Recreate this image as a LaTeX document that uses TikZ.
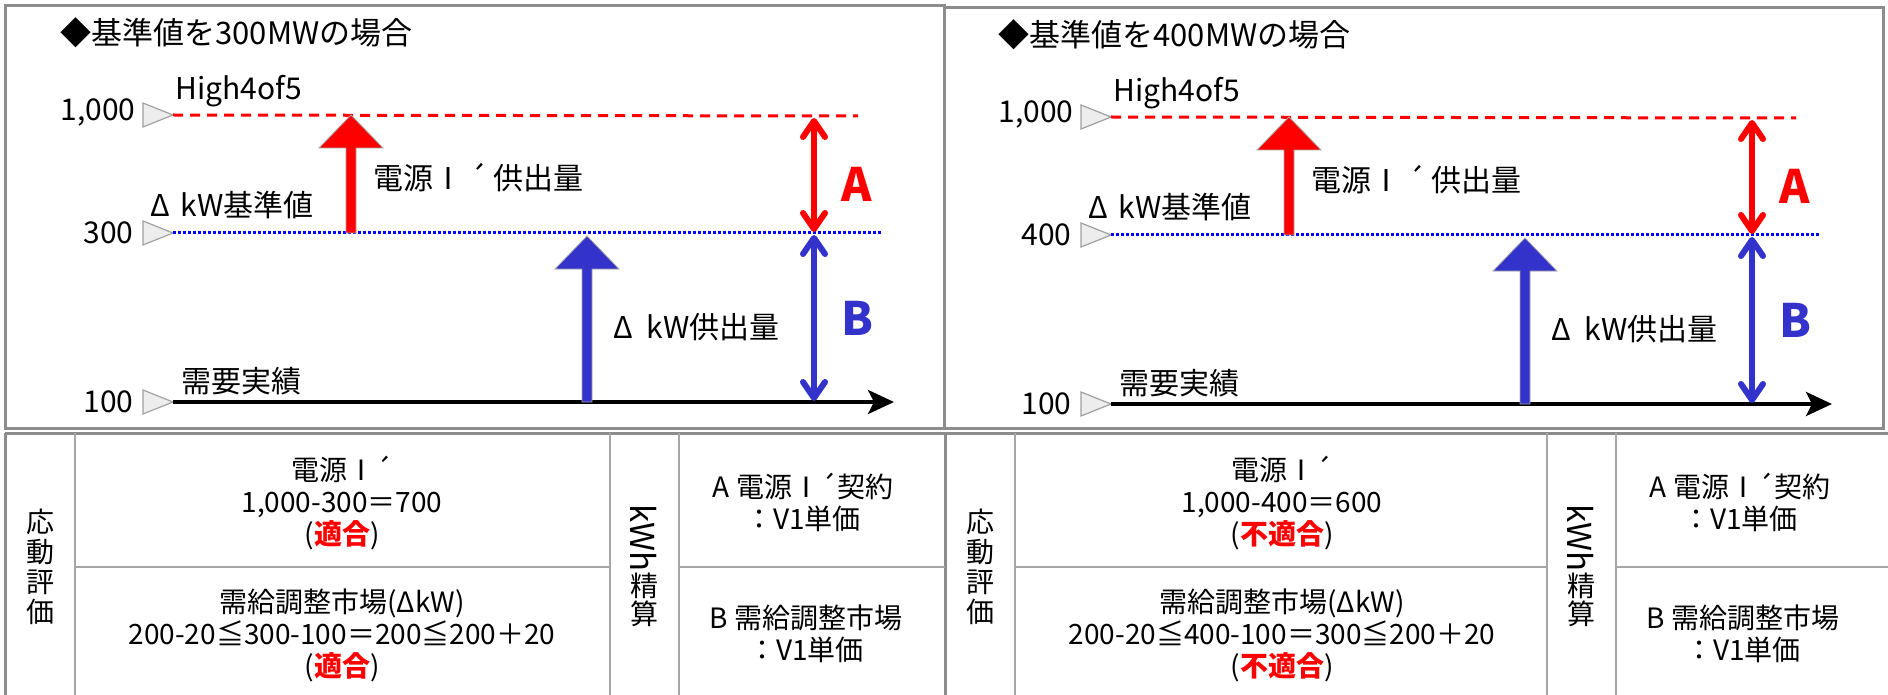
\documentclass[tikz,border=0pt]{standalone}
\usepackage{fontspec}
\setmainfont{Noto Sans CJK JP}
\usetikzlibrary{arrows.meta}
\definecolor{myred}{HTML}{FF0000}
\definecolor{myblue}{HTML}{3333CC}
\definecolor{dotblue}{HTML}{0000FF}
\definecolor{framegray}{HTML}{8C8C8C}
\definecolor{gridgray}{HTML}{A6A6A6}
\definecolor{markfill}{HTML}{EDEDED}
\definecolor{markline}{HTML}{A0A0A0}
\tikzset{
  lbl/.style={inner sep=0pt, font=\fontsize{15}{18}\selectfont},
  tlbl/.style={inner sep=0pt, font=\fontsize{14}{16}\selectfont, align=center},
  vlbl/.style={inner sep=0pt, font=\fontsize{14}{15}\selectfont, align=center},
  letterA/.style={inner sep=0pt, font=\fontsize{23}{26}\selectfont\bfseries},
  bigarrow/.style={draw=gray!70, line width=0.4pt},
  dblarrow/.style={line width=3pt, line cap=round,
    {Straight Barb[length=8pt,width=11pt,line cap=round,line join=round]}-{Straight Barb[length=8pt,width=11pt,line cap=round,line join=round]}},
  marker/.style={fill=markfill, draw=markline, line width=0.6pt},
  redline/.style={myred, line width=1.5pt, dash pattern=on 5pt off 3.5pt},
  blueline/.style={dotblue, line width=1.5pt, dash pattern=on 1.5pt off 1pt},
  baseline/.style={black, line width=1.8pt, -{Stealth[length=13pt,width=12pt,inset=3pt]}},
  panelframe/.style={draw=framegray, line width=1.5pt},
  gridline/.style={draw=gridgray, line width=1.2pt},
  darkgrid/.style={draw=framegray, line width=1.5pt},
}
% #1 prefix, #2 x offset, #3 y offset, #4 base value
\newcommand\mychart[4]{%
\begin{scope}[shift={(#2,#3)}]
  \node[lbl, anchor=west, font=\fontsize{15.5}{18}\selectfont] (#1title) at (60,33) {◆基準値を#4MWの場合};
  % value markers
  \node[lbl, anchor=east] (#1v1000) at (136,112) {1,000};
  \node[lbl, anchor=east] (#1vbase) at (134,233) {#4};
  \node[lbl, anchor=east] (#1v100) at (134,402) {100};
  \path[marker] (143,103) -- (173,115) -- (143,127) -- cycle;
  \path[marker] (143,221) -- (173,233) -- (143,245) -- cycle;
  \path[marker] (143,390) -- (173,402) -- (143,414) -- cycle;
  % level lines
  \coordinate (#1r1) at (173,115); \coordinate (#1r2) at (858,116);
  \coordinate (#1b1) at (173,233); \coordinate (#1b2) at (882,233);
  \coordinate (#1k1) at (173,402); \coordinate (#1k2) at (894,402);
  \draw[redline] (#1r1) -- (#1r2);
  \draw[blueline] (#1b1) -- (#1b2);
  \draw[baseline] (#1k1) -- (#1k2);
  % labels
  \node[lbl, anchor=west] (#1high) at (175,91) {High4of5};
  \node[lbl, anchor=west] (#1kwbase) at (150,205) {Δ\hspace{0.35em}kW基準値};
  \node[lbl, anchor=west] (#1demand) at (181,381) {需要実績};
  \node[lbl, anchor=west] (#1supply1) at (373,178) {電源Ⅰ\makebox[1em]{´}供出量};
  \node[lbl, anchor=west] (#1supply2) at (613,327) {Δ\hspace{0.45em}kW供出量};
  % big arrows
  \path[bigarrow, fill=myred] (346,233) -- (346,148) -- (319,148) -- (351,115)
     -- (383,148) -- (356,148) -- (356,233) -- cycle;
  \path[bigarrow, fill=myblue] (582,402) -- (582,269) -- (555,269) -- (587,236)
     -- (619,269) -- (592,269) -- (592,402) -- cycle;
  % double arrows
  \coordinate (#1a1) at (814,118); \coordinate (#1a2) at (814,232);
  \coordinate (#1a3) at (814,235); \coordinate (#1a4) at (814,401);
  \draw[dblarrow, myred] (#1a1) -- (#1a2);
  \draw[dblarrow, myblue] (#1a3) -- (#1a4);
  \node[letterA, text=myred] (#1A) at (857,184) {A};
  \node[letterA, text=myblue] (#1B) at (857,318) {B};
\end{scope}}
% #1 prefix, #2 x offset, #3 base value, #4 result1, #5 judgement, #6 right x offset, #7 result2
\newcommand\mytable[7]{%
\begin{scope}[shift={(#2,0)}]
  \node[vlbl] (#1ev) at (40,567) {応\\動\\評\\価};
  \node[tlbl] (#1c1) at (342,503) {電源Ⅰ´\\1,000-#3＝#4\\(\textcolor{myred}{\bfseries #5})};
  \node[tlbl] (#1c2) at (342,635) {需給調整市場(ΔkW)\\200-20≦#3-100＝#7≦200＋20\\(\textcolor{myred}{\bfseries #5})};
\end{scope}
\begin{scope}[shift={(#6,0)}]
  \node[tlbl, rotate=-90, font=\fontsize{16.5}{18}\selectfont] (#1kwh) at (644,538) {kWh};
  \node[vlbl] (#1sei) at (644,586) {精};
  \node[vlbl] (#1san) at (644,614) {算};
  \node[tlbl] (#1rA) at (803,502) {A 電源Ⅰ´契約\\：V1単価};
  \node[tlbl] (#1rB) at (806,634) {B 需給調整市場\\：V1単価};
\end{scope}}

\begin{document}
\begin{tikzpicture}[x=0.5pt, y=-0.5pt]
\useasboundingbox (0,0) rectangle (1888,695);
\fill[white] (0,0) rectangle (1888,695);
% panels
\path[panelframe] (5,6) rectangle (944,428);
\path[panelframe] (944,8) rectangle (1883,428);
\mychart{L}{0}{0}{300}
\mychart{R}{938}{2}{400}
% table grid
\draw[darkgrid] (5,433) -- (1888,433);
\draw[darkgrid] (5,433) -- (5,695);
\draw[darkgrid] (945,433) -- (945,695);
\draw[gridline] (75,433) -- (75,695);
\draw[gridline] (610,433) -- (610,695);
\draw[gridline] (679,433) -- (679,695);
\draw[gridline] (1015,433) -- (1015,695);
\draw[gridline] (1547,433) -- (1547,695);
\draw[gridline] (1616,433) -- (1616,695);
\draw[gridline] (75,567) -- (610,567);
\draw[gridline] (679,567) -- (945,567);
\draw[gridline] (1015,567) -- (1547,567);
\draw[gridline] (1616,567) -- (1888,567);
\mytable{TL}{0}{300}{700}{適合}{0}{200}
\mytable{TR}{940}{400}{600}{不適合}{937}{300}
\end{tikzpicture}
\end{document}
